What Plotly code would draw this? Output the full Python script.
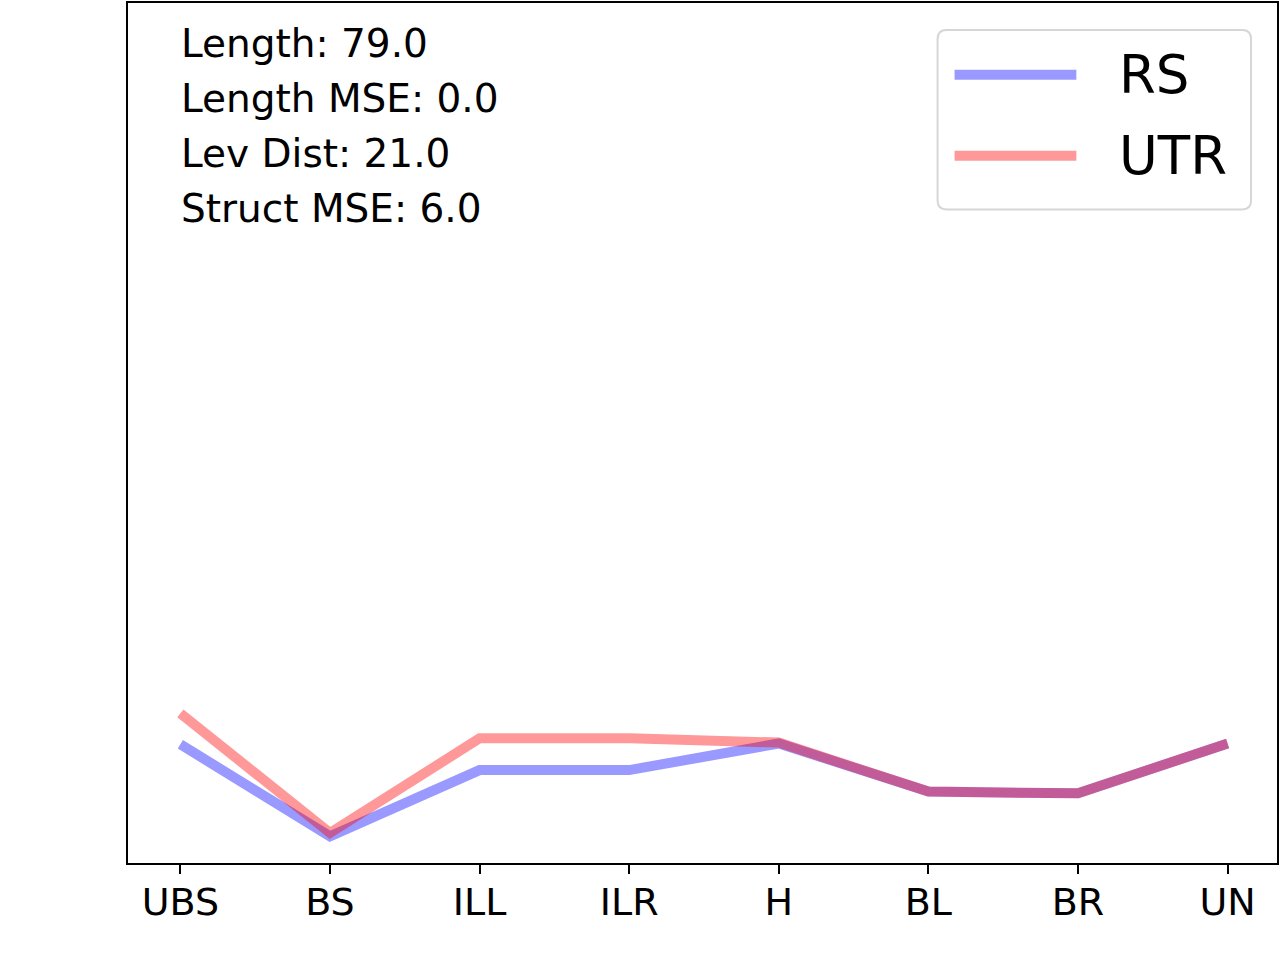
import plotly.graph_objects as go

categories = ["UBS", "BS", "ILL", "ILR", "H", "BL", "BR", "UN"]
rs_values = [13.8, 3.1, 10.8, 10.8, 13.9, 8.3, 8.1, 13.9]
utr_values = [17.4, 3.5, 14.5, 14.5, 14.0, 8.3, 8.1, 13.9]
series_names = ["RS", "UTR"]
series_colors = ["rgba(0,0,255,0.4)", "rgba(255,0,0,0.4)"]
stats_text = ["Length: 79.0", "Length MSE: 0.0", "Lev Dist: 21.0", "Struct MSE: 6.0"]

W, H = 1280, 960
L, R, T, B = 128, 1, 1, 97
font = "DejaVu Sans"


def px(x):
    return (x - L) / (W - L - R)


def py(y):
    return (H - B - y) / (H - B - T)


fig = go.Figure()
for name, vals, color in zip(series_names, [rs_values, utr_values], series_colors):
    fig.add_trace(go.Scatter(x=categories, y=vals, mode="lines", name=name,
                             line=dict(color=color, width=10)))

# stats text in the upper left
for i, txt in enumerate(stats_text):
    fig.add_annotation(x=px(179), y=py(42 + 55 * i), xref="paper", yref="paper",
                       text=txt, showarrow=False, xanchor="left", yanchor="middle",
                       font=dict(family=font, size=39, color="black"))

# legend box drawn by hand (long line samples like matplotlib)
x0, x1, y0, y1, r = 939, 1253, 28, 208, 9
path = (f"M{px(x0 + r)},{py(y0)} L{px(x1 - r)},{py(y0)} Q{px(x1)},{py(y0)} {px(x1)},{py(y0 + r)} "
        f"L{px(x1)},{py(y1 - r)} Q{px(x1)},{py(y1)} {px(x1 - r)},{py(y1)} "
        f"L{px(x0 + r)},{py(y1)} Q{px(x0)},{py(y1)} {px(x0)},{py(y1 - r)} "
        f"L{px(x0)},{py(y0 + r)} Q{px(x0)},{py(y0)} {px(x0 + r)},{py(y0)} Z")
fig.add_shape(type="path", path=path, xref="paper", yref="paper",
              line=dict(color="#d6d6d6", width=2), fillcolor="rgba(255,255,255,0.8)", layer="above")
for i, (name, color) in enumerate(zip(series_names, series_colors)):
    yy = py(73 + 81 * i)
    fig.add_shape(type="line", xref="paper", yref="paper", x0=px(956), x1=px(1078), y0=yy, y1=yy,
                  line=dict(color=color, width=10), layer="above")
    fig.add_annotation(x=px(1119), y=yy, xref="paper", yref="paper", text=name, showarrow=False,
                       xanchor="left", yanchor="middle", font=dict(family=font, size=53, color="black"))

fig.update_layout(
    width=W, height=H,
    margin=dict(l=L, r=R, t=T, b=B),
    plot_bgcolor="white", paper_bgcolor="white",
    showlegend=False,
    font=dict(family=font, color="black"),
)
fig.update_xaxes(range=[-0.35, 7.33], showgrid=False, zeroline=False,
                 showline=True, linecolor="black", linewidth=2, mirror=True,
                 ticks="outside", ticklen=9, tickwidth=2, tickcolor="black",
                 ticklabelstandoff=-5,
                 tickfont=dict(family=font, size=38, color="black"))
fig.update_yaxes(range=[0, 100], showgrid=False, zeroline=False, showticklabels=False,
                 showline=True, linecolor="black", linewidth=2, mirror=True, ticks="")

fig.write_html("out.html", config={"displayModeBar": False},
               post_script="document.body.style.margin='0';")
